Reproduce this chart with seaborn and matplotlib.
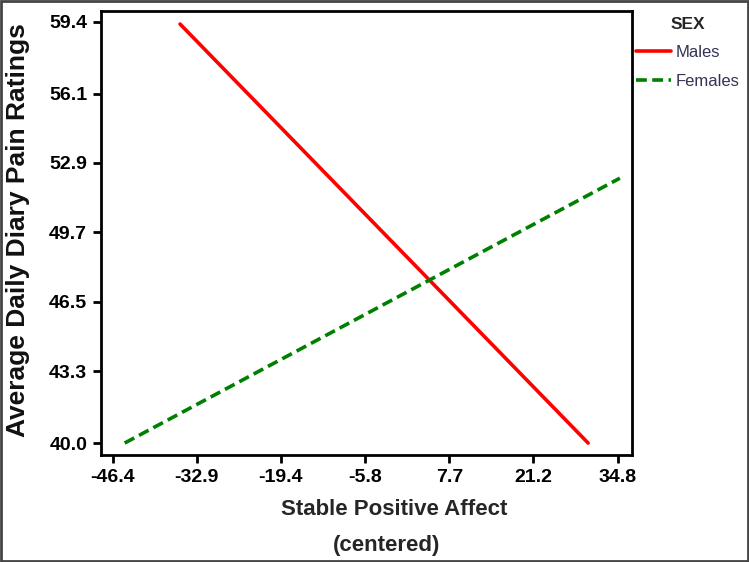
import matplotlib
matplotlib.use("Agg")
import matplotlib.pyplot as plt
import seaborn as sns
import pandas as pd

# end points of the two fitted lines
sex = ["Males", "Males", "Females", "Females"]
affect = [-35.6, 30.0, -44.5, 35.1]
pain = [59.3, 40.0, 40.0, 52.2]

x_ticks = [-46.4, -32.9, -19.4, -5.8, 7.7, 21.2, 34.8]
y_ticks = [40.0, 43.3, 46.5, 49.7, 52.9, 56.1, 59.4]

df = pd.DataFrame({"affect": affect, "pain": pain, "SEX": sex})

sns.set_style("white")
plt.rcParams["font.family"] = ["Liberation Sans", "DejaVu Sans"]

fig = plt.figure(figsize=(7.49, 5.62), dpi=100)
ax = fig.add_axes([0.1349, 0.1904, 0.7089, 0.79])

sns.lineplot(data=df, x="affect", y="pain", hue="SEX", style="SEX",
             palette={"Males": "#ff0000", "Females": "#008000"},
             dashes={"Males": "", "Females": (3, 1.5)},
             linewidth=2.6, ax=ax)

ax.set_xlim(-48.3, 37.05)
ax.set_ylim(39.45, 59.9)
ax.set_xticks(x_ticks)
ax.set_xticklabels([f"{v:.1f}" for v in x_ticks], fontsize=14, fontweight="bold")
ax.set_yticks(y_ticks)
ax.set_yticklabels([f"{v:.1f}" for v in y_ticks], fontsize=14, fontweight="bold")
ax.tick_params(axis="both", direction="out", length=6, width=2, colors="black",
               bottom=True, left=True, pad=4)
for s in ax.spines.values():
    s.set_linewidth(2)
    s.set_color("black")

ax.set_xlabel("Stable Positive Affect", fontsize=16, fontweight="bold")
ax.xaxis.set_label_coords(0.552, -0.10)
ax.text(0.537, -0.203, "(centered)", transform=ax.transAxes, fontsize=16,
        fontweight="bold", ha="center", va="center")
ax.set_ylabel("Average Daily Diary Pain Ratings", fontsize=19, fontweight="bold",
              color="#111111")
ax.yaxis.set_label_coords(-0.133, 0.507)

leg = ax.legend(title="SEX", loc="upper left",
                bbox_to_anchor=(636 / 749, 1 - 17 / 562), bbox_transform=fig.transFigure,
                frameon=False, fontsize=12, title_fontproperties={"weight": "bold", "size": 12.5},
                handlelength=2.1, handletextpad=0.3, borderaxespad=0, borderpad=0,
                labelspacing=0.8)
for t in leg.get_texts():
    t.set_color("#333355")

fig.patches.append(plt.Rectangle((0.001, 0.002), 0.997, 0.996, transform=fig.transFigure,
                                 fill=False, edgecolor="#444444", linewidth=2))

fig.savefig("out.png", dpi=100)
